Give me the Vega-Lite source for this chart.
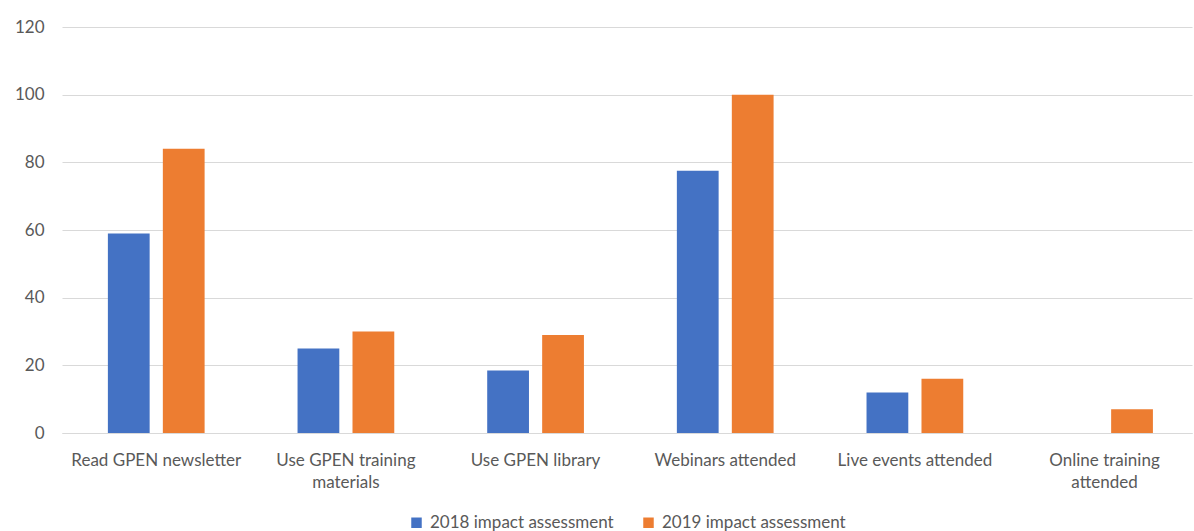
{
  "$schema": "https://vega.github.io/schema/vega-lite/v6.json",
  "width": 1194,
  "height": 531,
  "autosize": {"type": "fit", "contains": "padding"},
  "padding": {"left": 14, "top": 18, "right": 2, "bottom": 0},
  "config": {
    "view": {"stroke": null},
    "font": "Lato",
    "axis": {"labelColor": "#595959", "labelFontSize": 17, "gridColor": "#d9d9d9", "domainColor": "#d9d9d9", "ticks": false},
    "legend": {"labelColor": "#595959", "labelFontSize": 17, "layout": {"bottom": {"anchor": "middle"}}}
  },
  "data": {
    "values": [
      {"category": "Read GPEN newsletter", "series": "2018 impact assessment", "value": 59},
      {"category": "Read GPEN newsletter", "series": "2019 impact assessment", "value": 84},
      {"category": "Use GPEN training materials", "series": "2018 impact assessment", "value": 25},
      {"category": "Use GPEN training materials", "series": "2019 impact assessment", "value": 30},
      {"category": "Use GPEN library", "series": "2018 impact assessment", "value": 18.5},
      {"category": "Use GPEN library", "series": "2019 impact assessment", "value": 29},
      {"category": "Webinars attended", "series": "2018 impact assessment", "value": 77.5},
      {"category": "Webinars attended", "series": "2019 impact assessment", "value": 100},
      {"category": "Live events attended", "series": "2018 impact assessment", "value": 12},
      {"category": "Live events attended", "series": "2019 impact assessment", "value": 16},
      {"category": "Online training attended", "series": "2018 impact assessment", "value": 0},
      {"category": "Online training attended", "series": "2019 impact assessment", "value": 7}
    ]
  },
  "mark": {"type": "bar"},
  "encoding": {
    "x": {
      "field": "category", "type": "nominal", "sort": null, "title": null,
      "scale": {"paddingInner": 0.49, "paddingOuter": 0.224, "align": 0.54},
      "axis": {
        "labelAngle": 0, "labelPadding": 19, "grid": false, "domain": true, "labelLimit": 300,
        "labelExpr": "datum.value == 'Use GPEN training materials' ? ['Use GPEN training', 'materials'] : datum.value == 'Online training attended' ? ['Online training', 'attended'] : datum.value",
        "labelLineHeight": 22
      }
    },
    "xOffset": {"field": "series", "type": "nominal", "scale": {"paddingInner": 0.24}},
    "y": {
      "field": "value", "type": "quantitative", "title": null,
      "scale": {"domain": [0, 120]},
      "axis": {"values": [0, 20, 40, 60, 80, 100, 120], "labelOverlap": false, "domain": false, "labelPadding": 18}
    },
    "color": {
      "field": "series", "type": "nominal", "title": null,
      "scale": {"range": ["#4472c4", "#ed7d31"]},
      "legend": {"orient": "bottom", "direction": "horizontal", "symbolType": "square", "symbolSize": 110, "columnPadding": 26, "labelOffset": 5, "offset": 24, "symbolStrokeWidth": 0, "labelLimit": 400}
    }
  }
}
